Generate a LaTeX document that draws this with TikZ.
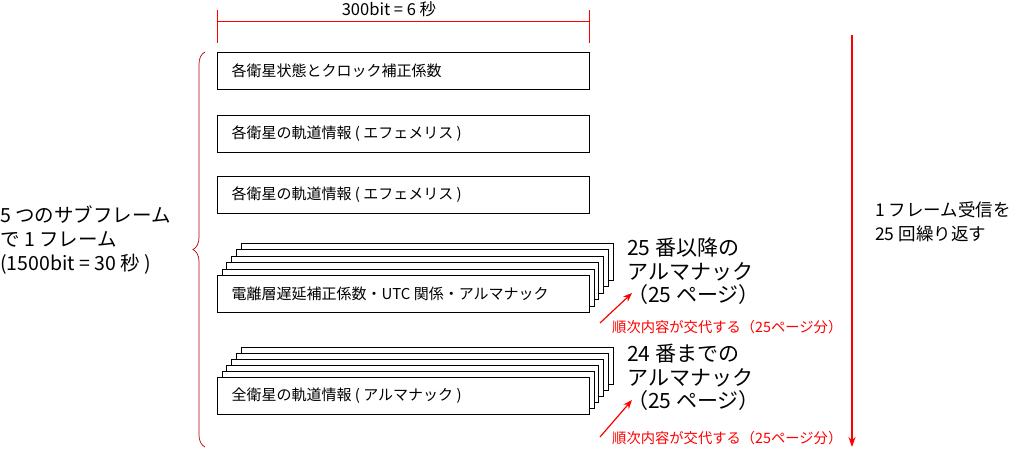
\documentclass[tikz,border=0pt]{standalone}
\usepackage{fontspec}
\setmainfont{Noto Sans CJK JP}
\usetikzlibrary{decorations.pathreplacing,arrows.meta}
\begin{document}
\begin{tikzpicture}[x=1pt,y=-1pt,
  fbox/.style={draw,fill=white,line width=0.8pt,minimum width=372pt,minimum height=37pt,anchor=north west,inner sep=0pt},
  btxt/.style={font=\fontsize{15}{16}\selectfont,anchor=west},
  lbl/.style={font=\fontsize{19.5}{24}\selectfont,align=left,anchor=north west,inner sep=0pt},
  lbr/.style={font=\fontsize{17.5}{24}\selectfont,align=left,anchor=north west,inner sep=0pt},
  lbm/.style={font=\fontsize{21}{23.5}\selectfont,align=left,anchor=north west,inner sep=0pt},
  rtxt/.style={font=\fontsize{14.3}{15}\selectfont,text=red,anchor=west,inner sep=0pt},
  rarr/.style={-{Stealth[length=9pt,width=7pt]},red,line width=1.2pt}]
\useasboundingbox (0,0) rectangle (1024,451);
% dimension
\coordinate (d1) at (217,21); \coordinate (d2) at (589,21);
\draw[red,line width=0.7pt] (d1) -- (d2) (217,10) -- (217,43) (589,10) -- (589,43);
\node[font=\fontsize{16.5}{18}\selectfont] (dim) at (389,9) {300bit = 6 秒};
% boxes
\node[fbox] (b1) at (217,52) {};
\node[btxt] (t1) at (228,71) {各衛星状態とクロック補正係数};
\node[fbox] (b2) at (217,115) {};
\node[btxt] (t2) at (228,133.5) {各衛星の軌道情報 ( エフェメリス )};
\node[fbox] (b3) at (217,176) {};
\node[btxt] (t3) at (228,194.5) {各衛星の軌道情報 ( エフェメリス )};
\foreach \i in {5,4,3,2,1}{
  \node[fbox] (s4\i) at (217+4.7*\i,275-6.4*\i) {};
  \node[fbox] (s5\i) at (217+4.7*\i,377-6*\i) {};
}
\node[fbox] (b4) at (217,275) {};
\node[btxt] (t4) at (228,293.5) {電離層遅延補正係数・UTC 関係・アルマナック};
\node[fbox] (b5) at (217,377) {};
\node[btxt] (t5) at (228,395.5) {全衛星の軌道情報 ( アルマナック )};
% brace
\draw[decorate,decoration={brace,amplitude=12pt},red!70!black,line width=0.7pt] (205,447) -- (205,52);
\node[lbl] (left) at (0,206) {5 つのサブフレーム\\で 1 フレーム\\(1500bit = 30 秒 )};
% right arrow
\coordinate (ra1) at (852,35); \coordinate (ra2) at (852,447);
\draw[-{Stealth[length=10pt,width=7pt]},red,line width=1.2pt] (ra1) -- (ra2);
\node[lbr] (right) at (875,202) {1 フレーム受信を\\25 回繰り返す};
% labels
\node[lbm] (l4) at (627,238) {25 番以降の\\アルマナック\\（25 ページ）};
\node[lbm] (l5) at (627,344) {24 番までの\\アルマナック\\（25 ページ）};
\coordinate (a1s) at (600,323); \coordinate (a1e) at (632,293);
\draw[rarr] (a1s) -- (a1e);
\coordinate (a2s) at (600,437); \coordinate (a2e) at (632,400);
\draw[rarr] (a2s) -- (a2e);
\node[rtxt] (r1) at (612,327) {順次内容が交代する（25ページ分）};
\node[rtxt] (r2) at (612,438) {順次内容が交代する（25ページ分）};
\end{tikzpicture}
\end{document}
